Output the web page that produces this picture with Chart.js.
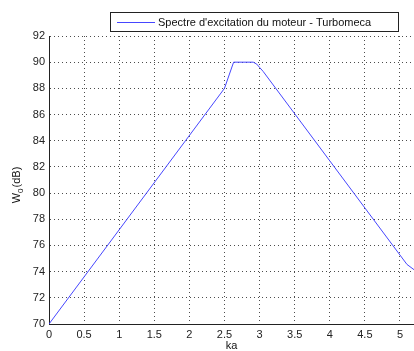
<!DOCTYPE html>
<html>
<head>
<meta charset="utf-8">
<script src="https://cdn.jsdelivr.net/npm/chart.js@4/dist/chart.umd.min.js"></script>
<style>
  html, body { margin: 0; padding: 0; background: #fff; overflow: hidden; }
  #wrap { width: 414px; height: 351px; position: relative; }
</style>
</head>
<body>
<div id="wrap"><canvas id="c" width="414" height="351"></canvas></div>
<script>
// Excitation spectrum of the engine, W0 in dB against ka
const ka = [0, 2.5, 2.63, 2.91, 2.96, 3.0, 3.05, 5.1, 5.2];
const w0 = [70, 88, 90, 90, 89.85, 89.6, 89.3, 74.55, 74.15];
const xTicks = [0, 0.5, 1, 1.5, 2, 2.5, 3, 3.5, 4, 4.5, 5];
const yTicks = [70, 72, 74, 76, 78, 80, 82, 84, 86, 88, 90, 92];
const seriesLabel = "Spectre d'excitation du moteur - Turbomeca";
const xTitle = 'ka';

const FONT = 'Arial, "Liberation Sans", Helvetica, sans-serif';
const LINE = 'rgb(70,70,255)';
const GRID = 'rgba(0,0,0,0.7)';

const decorations = {
  id: 'decorations',
  afterDraw(chart) {
    const ctx = chart.ctx;
    const area = chart.chartArea;
    ctx.save();
    // legend box
    ctx.fillStyle = '#fff';
    ctx.fillRect(110, 13, 288, 19);
    ctx.strokeStyle = '#222';
    ctx.lineWidth = 1;
    ctx.strokeRect(110.5, 12.5, 288, 19);
    ctx.strokeStyle = LINE;
    ctx.beginPath();
    ctx.moveTo(117, 22.5);
    ctx.lineTo(155, 22.5);
    ctx.stroke();
    ctx.fillStyle = '#111';
    ctx.font = '11px ' + FONT;
    ctx.textBaseline = 'middle';
    ctx.textAlign = 'left';
    ctx.fillText(seriesLabel, 158, 22.5);

    // x-axis title
    ctx.textAlign = 'center';
    ctx.fillText(xTitle, (area.left + area.right) / 2, 346);

    // y-axis title: W with subscript 0, then (dB)
    ctx.translate(17, 185);
    ctx.rotate(-Math.PI / 2);
    ctx.textAlign = 'left';
    ctx.font = '11px ' + FONT;
    const wW = ctx.measureText('W').width;
    ctx.font = '8px ' + FONT;
    const w0w = ctx.measureText('0').width;
    ctx.font = '11px ' + FONT;
    const wRest = ctx.measureText('(dB)').width;
    const total = wW + w0w + 1 + wRest;
    let x = -total / 2;
    ctx.fillText('W', x, 0);
    x += wW;
    ctx.font = '8px ' + FONT;
    ctx.fillText('0', x, 4);
    x += w0w + 1;
    ctx.font = '11px ' + FONT;
    ctx.fillText('(dB)', x, 0);
    ctx.restore();
  }
};

new Chart(document.getElementById('c'), {
  type: 'line',
  data: {
    datasets: [{
      label: seriesLabel,
      data: ka.map((k, i) => ({ x: k, y: w0[i] })),
      borderColor: LINE,
      borderWidth: 1,
      pointRadius: 0,
      fill: false,
      tension: 0
    }]
  },
  options: {
    responsive: false,
    animation: false,
    devicePixelRatio: 1,
    layout: { padding: { left: 0, top: 36, right: 0, bottom: 0 } },
    plugins: { legend: { display: false }, tooltip: { enabled: false } },
    scales: {
      x: {
        type: 'linear',
        min: 0,
        max: 5.2,
        afterBuildTicks(scale) { scale.ticks = xTicks.map(v => ({ value: v })); },
        afterFit(scale) { scale.height = 27; },
        grid: { color: GRID, drawTicks: false, lineWidth: 1 },
        border: { display: true, color: '#222', width: 1, dash: [1, 3] },
        ticks: { font: { family: FONT, size: 11 }, color: '#222', padding: 4, maxRotation: 0,
                 callback: v => String(v) }
      },
      y: {
        min: 70,
        max: 92,
        afterBuildTicks(scale) { scale.ticks = yTicks.map(v => ({ value: v })); },
        afterFit(scale) { scale.width = 49; },
        grid: { color: GRID, drawTicks: false, lineWidth: 1 },
        border: { display: true, color: '#222', width: 1, dash: [1, 3] },
        ticks: { font: { family: FONT, size: 11 }, color: '#222', padding: 4,
                 callback: v => String(v) }
      }
    }
  },
  plugins: [decorations]
});
</script>
</body>
</html>
